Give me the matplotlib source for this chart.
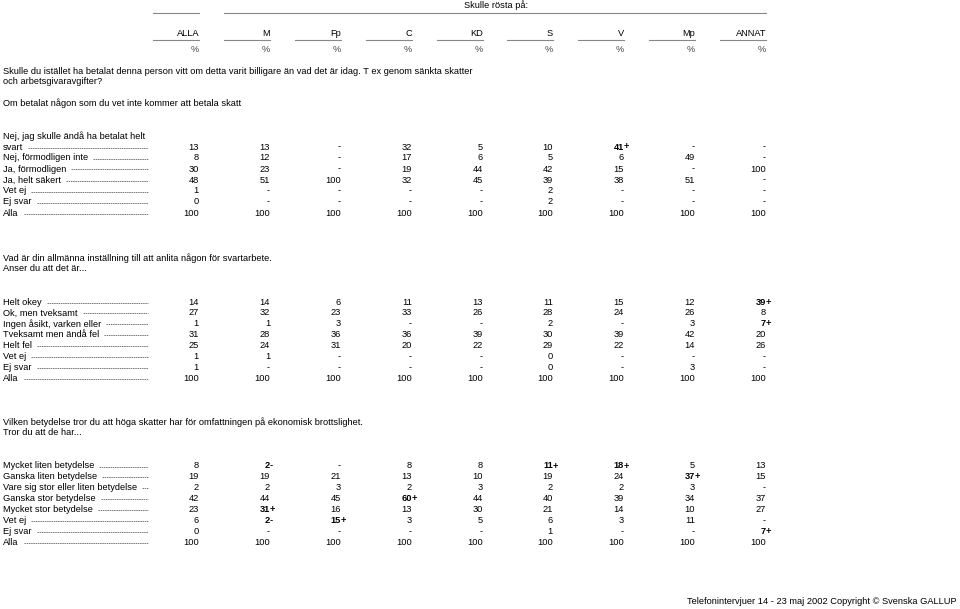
import matplotlib
matplotlib.use("Agg")
import matplotlib.pyplot as plt
from matplotlib.lines import Line2D

plt.rcParams['font.family'] = ['Liberation Sans', 'DejaVu Sans']

W, H = 960, 609
FS = 6.7

# column headers and their right edges (pixels)
columns = ["ALLA", "M", "Fp", "C", "KD", "S", "V", "Mp", "ANNAT"]
col_right = [199, 270, 341, 412, 483, 553, 624, 695, 766]

# section 1
q1_title = ["Skulle du istället ha betalat denna person vitt om detta varit billigare än vad det är idag. T ex genom sänkta skatter",
            "och arbetsgivaravgifter?",
            "",
            "Om betalat någon som du vet inte kommer att betala skatt"]
q1_rows = ["svart", "Nej, förmodligen inte", "Ja, förmodligen", "Ja, helt säkert",
           "Vet ej", "Ej svar", "Alla"]
q1_values = [
    ["13", "13", "-", "32", "5", "10", "41+", "-", "-"],
    ["8", "12", "-", "17", "6", "5", "6", "49", "-"],
    ["30", "23", "-", "19", "44", "42", "15", "-", "100"],
    ["48", "51", "100", "32", "45", "39", "38", "51", "-"],
    ["1", "-", "-", "-", "-", "2", "-", "-", "-"],
    ["0", "-", "-", "-", "-", "2", "-", "-", "-"],
    ["100", "100", "100", "100", "100", "100", "100", "100", "100"],
]

# section 2
q2_title = ["Vad är din allmänna inställning till att anlita någon för svartarbete.",
            "Anser du att det är..."]
q2_rows = ["Helt okey", "Ok, men tveksamt", "Ingen åsikt, varken eller", "Tveksamt men ändå fel",
           "Helt fel", "Vet ej", "Ej svar", "Alla"]
q2_values = [
    ["14", "14", "6", "11", "13", "11", "15", "12", "39+"],
    ["27", "32", "23", "33", "26", "28", "24", "26", "8"],
    ["1", "1", "3", "-", "-", "2", "-", "3", "7+"],
    ["31", "28", "36", "36", "39", "30", "39", "42", "20"],
    ["25", "24", "31", "20", "22", "29", "22", "14", "26"],
    ["1", "1", "-", "-", "-", "0", "-", "-", "-"],
    ["1", "-", "-", "-", "-", "0", "-", "3", "-"],
    ["100", "100", "100", "100", "100", "100", "100", "100", "100"],
]

# section 3
q3_title = ["Vilken betydelse tror du att höga skatter har för omfattningen på ekonomisk brottslighet.",
            "Tror du att de har..."]
q3_rows = ["Mycket liten betydelse", "Ganska liten betydelse", "Vare sig stor eller liten betydelse",
           "Ganska stor betydelse", "Mycket stor betydelse", "Vet ej", "Ej svar", "Alla"]
q3_values = [
    ["8", "2-", "-", "8", "8", "11+", "18+", "5", "13"],
    ["19", "19", "21", "13", "10", "19", "24", "37+", "15"],
    ["2", "2", "3", "2", "3", "2", "2", "3", "-"],
    ["42", "44", "45", "60+", "44", "40", "39", "34", "37"],
    ["23", "31+", "16", "13", "30", "21", "14", "10", "27"],
    ["6", "2-", "15+", "3", "5", "6", "3", "11", "-"],
    ["0", "-", "-", "-", "-", "1", "-", "-", "7+"],
    ["100", "100", "100", "100", "100", "100", "100", "100", "100"],
]

footer = "Telefonintervjuer 14 - 23 maj 2002 Copyright © Svenska GALLUP"

fig = plt.figure(figsize=(W / 100, H / 100), dpi=100)
renderer = fig.canvas.get_renderer()


def fx(x):
    return x / W


def fy(y):
    return 1 - y / H


def txt(x, y, s, ha='left', bold=False, color='#000000'):
    return fig.text(fx(x), fy(y), s, ha=ha, va='center', fontsize=FS,
                    fontweight='bold' if bold else 'normal', color=color)


def hline(x0, x1, y, color='#888888', lw=0.8, ls='-'):
    fig.add_artist(Line2D([fx(x0), fx(x1)], [fy(y), fy(y)], transform=fig.transFigure,
                          color=color, lw=lw, ls=ls))


# header
hline(153, col_right[0], 13)
hline(224, col_right[-1], 13)
txt(496, 5, "Skulle rösta på:", ha='center')
for name, xr in zip(columns, col_right):
    txt(xr, 33, name, ha='right')
    hline(xr - 46, xr, 39.5)
    txt(xr, 49, "%", ha='right', color='#444444')

LEADER_END = 148


def row_label(y, label):
    t = txt(3, y, label)
    bb = t.get_window_extent(renderer)
    x0 = bb.x1 + 5
    if x0 < LEADER_END:
        hline(x0, LEADER_END, y + 0.5, color='#444444', lw=0.5, ls=(0, (2.2, 1.0)))


def value_cell(xr, y, s):
    if len(s) > 1 and s[-1] in '+-':
        txt(xr, y, s[:-1], ha='right', bold=True)
        txt(xr, y, s[-1], ha='left', bold=True)
    else:
        txt(xr, y, s, ha='right')


def section(title, title_y, rows, values, row_y0, step, pre_label=None):
    for i, line in enumerate(title):
        if line:
            txt(3, title_y + i * 10.8, line)
    if pre_label is not None:
        txt(3, row_y0 - step, pre_label)
    for i, (label, vals) in enumerate(zip(rows, values)):
        y = row_y0 + i * step
        row_label(y, label)
        for xr, v in zip(col_right, vals):
            value_cell(xr, y, v)


section(q1_title, 71, q1_rows, q1_values, 147, 11.0,
        pre_label="Nej, jag skulle ändå ha betalat helt")
section(q2_title, 258, q2_rows, q2_values, 302, 10.95)
section(q3_title, 422, q3_rows, q3_values, 466, 10.95)

txt(957, 602, footer, ha='right')

fig.savefig("out.png", dpi=100)
